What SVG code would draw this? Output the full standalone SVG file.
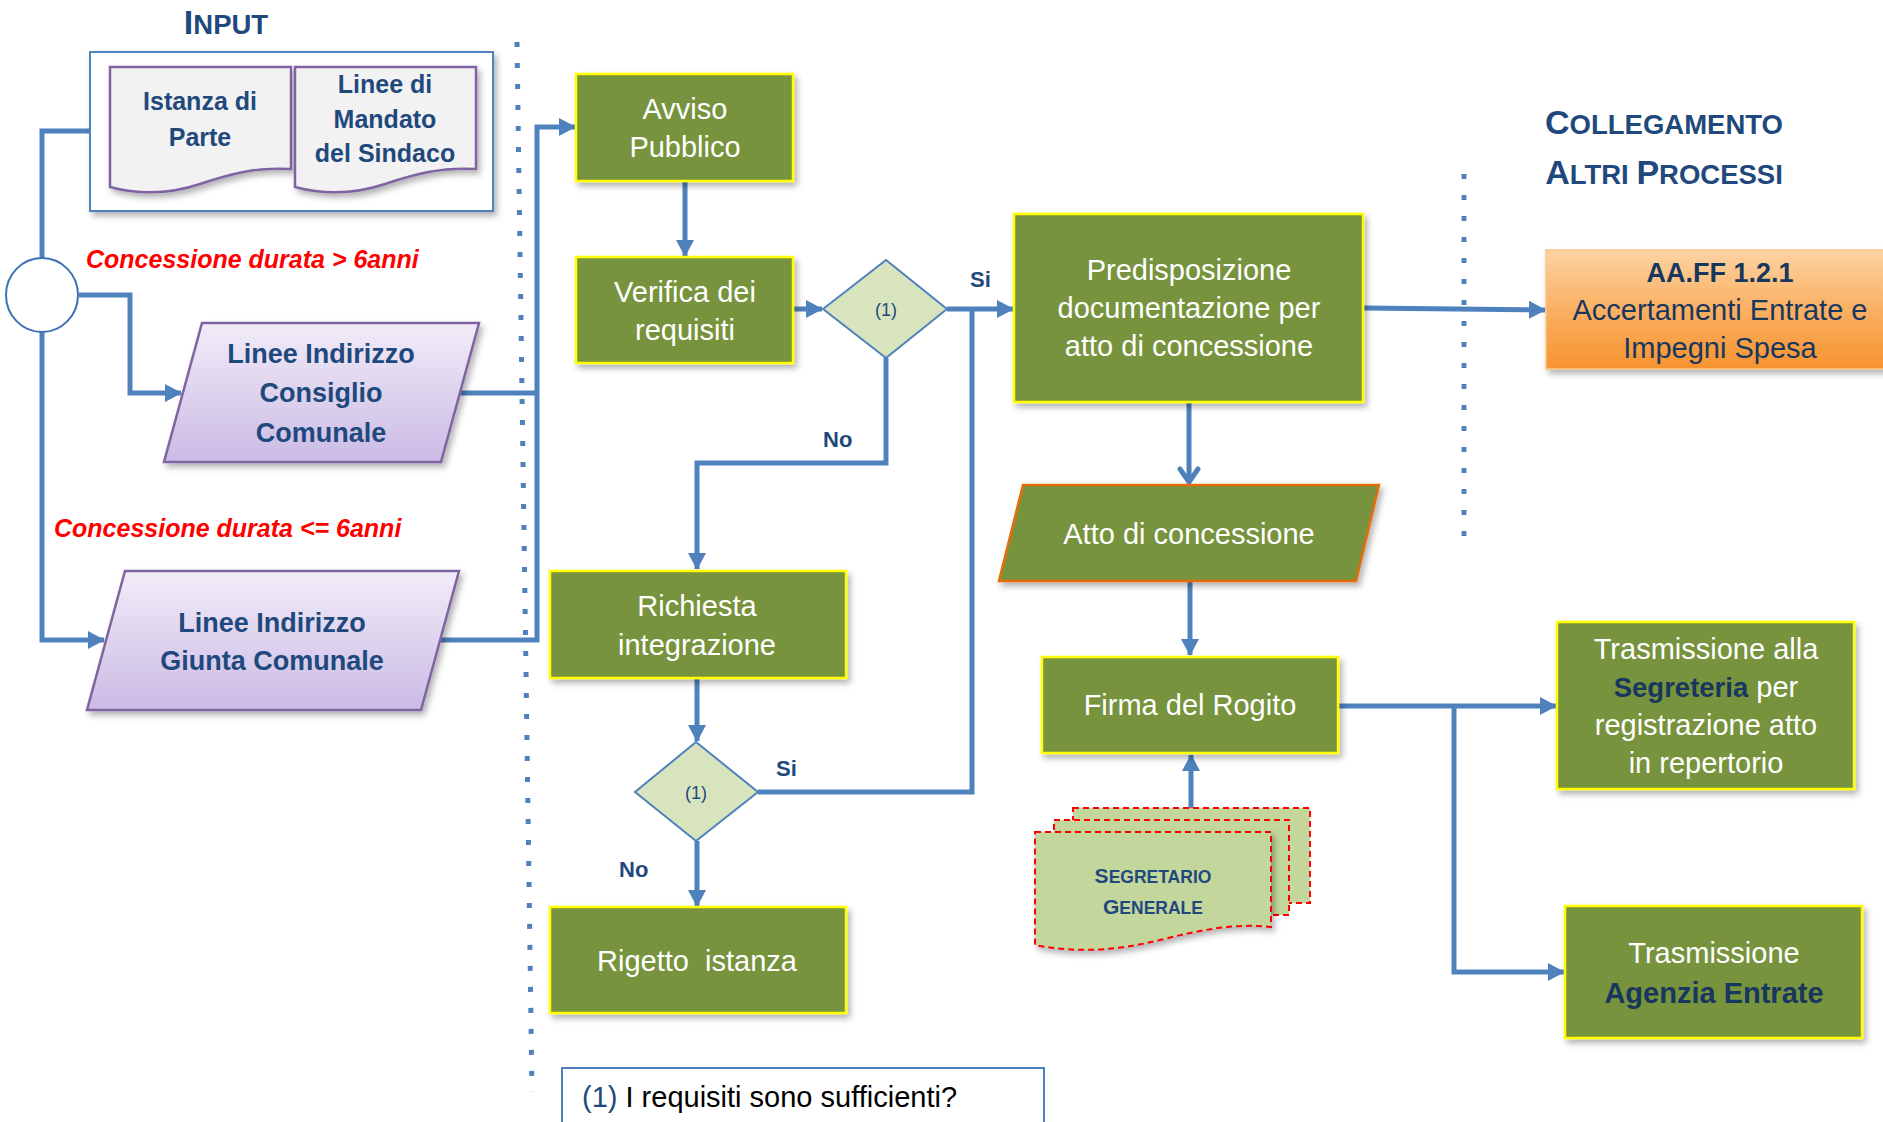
<svg xmlns="http://www.w3.org/2000/svg" width="1883" height="1122" viewBox="0 0 1883 1122">
<defs>
<style>
.conn{fill:none;stroke:#4f81bd;stroke-width:5;stroke-linejoin:miter}
.dot{fill:none;stroke:#4f81bd;stroke-width:5;stroke-dasharray:5 16}
.proc{fill:#77933c;stroke:#ffff00;stroke-width:2.5;filter:url(#sh)}
.dia{fill:#d7e4bd;stroke:#4f81bd;stroke-width:2}
.doc{fill:#f2f2f2;stroke:#8064a2;stroke-width:2.5;filter:url(#sh)}
.par{fill:url(#gp);stroke:#8064a2;stroke-width:2.5;filter:url(#sh)}
.sd{fill:#c3d69b;stroke:#ff0000;stroke-width:2;stroke-dasharray:6 4}
text{font-family:"Liberation Sans",Arial,sans-serif}
.wt{font-size:29px;fill:#ffffff;text-anchor:middle}
.bt{font-size:27px;font-weight:bold;fill:#1f497d;text-anchor:middle}
.dt{font-size:25px;font-weight:bold;fill:#1f497d;text-anchor:middle}
.nb{font-weight:bold;fill:#17375e}
.red{font-size:25px;font-weight:bold;font-style:italic;fill:#ff0000}
.lbl{font-size:22px;font-weight:bold;fill:#1f497d}
.d1{font-size:18px;fill:#1f497d;text-anchor:middle}
.ttl{font-weight:bold;fill:#1f497d;text-anchor:middle}
</style>
<filter id="sh" x="-10%" y="-10%" width="130%" height="140%">
<feDropShadow dx="3" dy="4" stdDeviation="3" flood-color="#000" flood-opacity="0.3"/>
</filter>
<linearGradient id="gp" x1="0" y1="0" x2="0" y2="1">
<stop offset="0" stop-color="#f1ecf8"/>
<stop offset="1" stop-color="#cbbbe5"/>
</linearGradient>
<linearGradient id="go" x1="0" y1="0" x2="0" y2="1">
<stop offset="0" stop-color="#fdd3a2"/>
<stop offset="0.5" stop-color="#fab062"/>
<stop offset="1" stop-color="#f79330"/>
</linearGradient>
<marker id="ah" markerUnits="userSpaceOnUse" markerWidth="17" markerHeight="18" refX="16" refY="9" orient="auto">
<path d="M0,0 L17,9 L0,18 z" fill="#4f81bd"/>
</marker>
<marker id="oa" markerUnits="userSpaceOnUse" markerWidth="20" markerHeight="24" refX="16" refY="12" orient="auto">
<path d="M3,3 L16,12 L3,21" fill="none" stroke="#4f81bd" stroke-width="5" stroke-linecap="round" stroke-linejoin="round"/>
</marker>
</defs>
<rect width="1883" height="1122" fill="#ffffff"/>

<g id="separators">
<path class="dot" d="M517,42 L532,1092"/>
<path class="dot" d="M1464,174 L1464,545"/>
</g>

<g id="titles">
<text class="ttl" x="226" y="34"><tspan font-size="34">I</tspan><tspan font-size="27.5">NPUT</tspan></text>
<text class="ttl" x="1664" y="134"><tspan font-size="34">C</tspan><tspan font-size="27.5">OLLEGAMENTO</tspan></text>
<text class="ttl" x="1664" y="184"><tspan font-size="34">A</tspan><tspan font-size="27.5">LTRI </tspan><tspan font-size="34">P</tspan><tspan font-size="27.5">ROCESSI</tspan></text>
</g>

<g id="connectors">
<path class="conn" d="M90,131 H42 V258"/>
<path class="conn" d="M42,332 V640 H104" marker-end="url(#ah)"/>
<path class="conn" d="M79,295 H130 V393 H181" marker-end="url(#ah)"/>
<path class="conn" d="M460,393 H537"/>
<path class="conn" d="M440,640 H537 V127 H575" marker-end="url(#ah)"/>
<path class="conn" d="M685,181 V256" marker-end="url(#ah)"/>
<path class="conn" d="M793,309 H822" marker-end="url(#ah)"/>
<path class="conn" d="M947,309 H1013" marker-end="url(#ah)"/>
<path class="conn" d="M758,792 H972 V309"/>
<path class="conn" d="M886,358 V463 H697 V569" marker-end="url(#ah)"/>
<path class="conn" d="M697,678 V741" marker-end="url(#ah)"/>
<path class="conn" d="M697,841 V906" marker-end="url(#ah)"/>
<path class="conn" d="M1363,308 L1545,310" marker-end="url(#ah)"/>
<path class="conn" d="M1189,402 V482" marker-end="url(#oa)"/>
<path class="conn" d="M1190,581 V655" marker-end="url(#ah)"/>
<path class="conn" d="M1191,808 V755" marker-end="url(#ah)"/>
<path class="conn" d="M1338,706 H1556" marker-end="url(#ah)"/>
<path class="conn" d="M1454,706 V972 H1564" marker-end="url(#ah)"/>
</g>

<g id="input-box">
<rect x="90" y="52" width="403" height="159" fill="#ffffff" stroke="#4f81bd" stroke-width="2" filter="url(#sh)"/>
</g>
<g id="istanza">
<path class="doc" d="M110,67 H291 V169 C255,167 230,174 200,184 C170,194 140,195 110,187 Z"/>
<text class="dt" x="200" y="110">Istanza di</text>
<text class="dt" x="200" y="146">Parte</text>
</g>
<g id="mandato">
<path class="doc" d="M295,67 H476 V169 C440,167 415,174 385,184 C355,194 325,195 295,187 Z"/>
<text class="dt" x="385" y="93">Linee di</text>
<text class="dt" x="385" y="128">Mandato</text>
<text class="dt" x="385" y="162">del Sindaco</text>
</g>

<g id="start-circle">
<ellipse cx="42" cy="295" rx="36" ry="37" fill="#ffffff" stroke="#3e72b4" stroke-width="2"/>
</g>

<g id="labels-left">
<text class="red" x="86" y="268">Concessione durata &gt; 6anni</text>
<text class="red" x="54" y="537">Concessione durata &lt;= 6anni</text>
</g>

<g id="consiglio">
<polygon class="par" points="202,323 479,323 441,462 164,462"/>
<text class="bt" x="321" y="363">Linee Indirizzo</text>
<text class="bt" x="321" y="402">Consiglio</text>
<text class="bt" x="321" y="442">Comunale</text>
</g>
<g id="giunta">
<polygon class="par" points="125,571 459,571 421,710 87,710"/>
<text class="bt" x="272" y="632">Linee Indirizzo</text>
<text class="bt" x="272" y="670">Giunta Comunale</text>
</g>

<g id="avviso">
<rect class="proc" x="576" y="74" width="217" height="107"/>
<text class="wt" x="685" y="119">Avviso</text>
<text class="wt" x="685" y="157">Pubblico</text>
</g>
<g id="verifica">
<rect class="proc" x="576" y="257" width="217" height="106"/>
<text class="wt" x="685" y="302">Verifica dei</text>
<text class="wt" x="685" y="340">requisiti</text>
</g>
<g id="decisione1">
<polygon class="dia" points="823,309 886,260 947,309 886,358"/>
<text class="d1" x="886" y="316">(1)</text>
</g>
<g id="richiesta">
<rect class="proc" x="550" y="571" width="296" height="107"/>
<text class="wt" x="697" y="616">Richiesta</text>
<text class="wt" x="697" y="655">integrazione</text>
</g>
<g id="decisione2">
<polygon class="dia" points="635,792 696,742 758,792 696,841"/>
<text class="d1" x="696" y="799">(1)</text>
</g>
<g id="rigetto">
<rect class="proc" x="550" y="907" width="296" height="106"/>
<text class="wt" x="697" y="971" style="white-space:pre">Rigetto  istanza</text>
</g>

<g id="branch-labels">
<text class="lbl" x="970" y="287">Si</text>
<text class="lbl" x="823" y="447">No</text>
<text class="lbl" x="776" y="776">Si</text>
<text class="lbl" x="619" y="877">No</text>
</g>

<g id="predisposizione">
<rect class="proc" x="1014" y="214" width="349" height="188"/>
<text class="wt" x="1189" y="280">Predisposizione</text>
<text class="wt" x="1189" y="318">documentazione per</text>
<text class="wt" x="1189" y="356">atto di concessione</text>
</g>
<g id="atto">
<polygon points="1023,485 1379,485 1356,581 999,581" fill="#77933c" stroke="#e46c0a" stroke-width="2.5" filter="url(#sh)"/>
<text class="wt" x="1189" y="544">Atto di concessione</text>
</g>
<g id="firma">
<rect class="proc" x="1042" y="657" width="296" height="96"/>
<text class="wt" x="1190" y="715">Firma del Rogito</text>
</g>
<g id="segretario">
<rect class="sd" x="1073" y="808" width="237" height="95"/>
<rect class="sd" x="1054" y="820" width="235" height="95"/>
<path class="sd" d="M1035,832 H1271 V927 C1235,923 1200,930 1160,940 C1115,951 1075,953 1035,945 Z" filter="url(#sh)"/>
<text class="ttl" x="1153" y="883"><tspan font-size="21">S</tspan><tspan font-size="17.5">EGRETARIO</tspan></text>
<text class="ttl" x="1153" y="914"><tspan font-size="21">G</tspan><tspan font-size="17.5">ENERALE</tspan></text>
</g>

<g id="aaff">
<rect x="1546" y="250" width="345" height="119" fill="url(#go)" stroke="#fbc58a" stroke-width="1.5" filter="url(#sh)"/>
<text x="1720" y="282" font-size="27" font-weight="bold" fill="#17375e" text-anchor="middle">AA.FF 1.2.1</text>
<text x="1720" y="320" font-size="29" fill="#17375e" text-anchor="middle">Accertamenti Entrate e</text>
<text x="1720" y="358" font-size="29" fill="#17375e" text-anchor="middle">Impegni Spesa</text>
</g>

<g id="segreteria">
<rect class="proc" x="1557" y="622" width="297" height="167"/>
<text class="wt" x="1706" y="659">Trasmissione alla</text>
<text class="wt" x="1706" y="697"><tspan class="nb" font-size="27.5">Segreteria</tspan> per</text>
<text class="wt" x="1706" y="735">registrazione atto</text>
<text class="wt" x="1706" y="773">in repertorio</text>
</g>
<g id="agenzia">
<rect class="proc" x="1565" y="906" width="297" height="132"/>
<text class="wt" x="1714" y="963">Trasmissione</text>
<text class="wt nb" x="1714" y="1003" font-size="27.5">Agenzia Entrate</text>
</g>

<g id="nota">
<rect x="562" y="1068" width="482" height="70" fill="#ffffff" stroke="#4f81bd" stroke-width="2"/>
<text x="582" y="1107" font-size="29" fill="#000000"><tspan fill="#1f497d">(1)</tspan> I requisiti sono sufficienti?</text>
</g>
</svg>
